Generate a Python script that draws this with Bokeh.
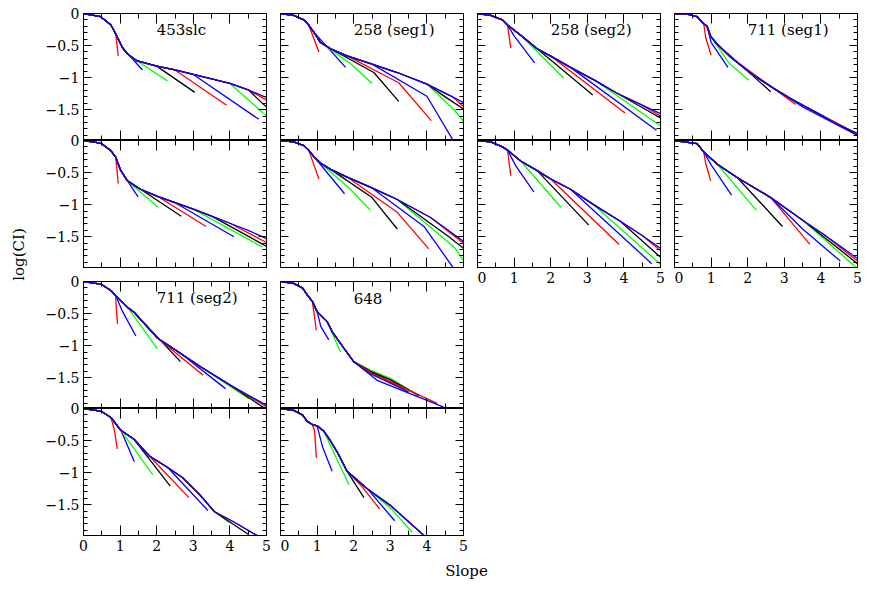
import numpy as np
from bokeh.plotting import figure
from bokeh.models import FixedTicker, LinearAxis, Range1d, Label, CustomJSTickFormatter
from bokeh.layouts import column, row
from bokeh.embed import file_html
from bokeh.resources import INLINE

FONT = "DejaVu Serif"
LINE_COLORS = ["#ff0000", "#0000ff", "#00ff00", "#000000"]

# ---------------- axis ticks / labels ----------------
x_major = [0, 1, 2, 3, 4, 5]
x_tick_labels = ["0", "1", "2", "3", "4", "5"]
y_major = [0, -0.5, -1.0, -1.5]
y_tick_labels = ["0", "\u22120.5", "\u22121", "\u22121.5"]
panel_names = ["453slc", "258 (seg1)", "258 (seg2)", "711 (seg1)", "711 (seg2)", "648"]
x_title = "Slope"
y_title = "log(CI)"

# ---------------- data: trunk (shared upper curve) + branch tails ----------------
# 453slc upper
s453u_tx = [0, 0.47, 0.75, 0.88, 0.97, 1.06, 1.2, 1.47, 2.0, 2.5, 3.0, 3.5, 4.0, 4.5, 5.0]
s453u_ty = [0, -0.05, -0.18, -0.32, -0.42, -0.53, -0.63, -0.74, -0.82, -0.88, -0.95, -1.02, -1.09, -1.19, -1.31]
s453u_k = [3, 5, 7, 8, 9, 10, 12, 13, 13, 14]
s453u_ex = [[0.95], [1.61], [2.29], [3.04], [3.91], [4.79], [5.0], [5.0], [5.0], []]
s453u_ey = [[-0.66], [-0.88], [-1.05], [-1.23], [-1.43], [-1.65], [-1.6], [-1.46], [-1.35], []]
# 453slc lower
s453l_tx = [0, 0.47, 0.75, 0.88, 1.02, 1.2, 1.56, 2.02, 2.5, 3.0, 3.5, 4.0, 4.5, 5.0]
s453l_ty = [0, -0.04, -0.16, -0.26, -0.47, -0.63, -0.76, -0.87, -0.97, -1.07, -1.18, -1.29, -1.4, -1.53]
s453l_k = [3, 4, 5, 6, 7, 8, 9, 10, 11, 13]
s453l_ex = [[0.95], [1.49], [2.04], [2.67], [3.35], [4.11], [4.88], [5.0], [5.0], []]
s453l_ey = [[-0.67], [-0.88], [-1.04], [-1.18], [-1.34], [-1.5], [-1.66], [-1.65], [-1.59], []]

# 258 (seg1) upper
s258au_tx = [0, 0.36, 0.64, 0.77, 0.91, 1.09, 1.37, 1.82, 2.5, 3.19, 4.0, 4.7, 5.0]
s258au_ty = [0, -0.03, -0.1, -0.18, -0.29, -0.45, -0.55, -0.66, -0.79, -0.92, -1.1, -1.3, -1.39]
s258au_k = [3, 4, 5, 6, 7, 8, 10, 10, 11, 12]
s258au_ex = [[1.05], [1.78], [1.91, 2.5], [2.55, 3.23], [3.23, 4.12], [4.0, 4.74], [4.74, 5.0], [4.5, 5.0], [5.0], []]
s258au_ey = [[-0.6], [-0.84], [-0.78, -1.09], [-0.92, -1.37], [-1.08, -1.67], [-1.29, -2.0], [-1.5, -1.68], [-1.3, -1.49], [-1.45], []]
# 258 (seg1) lower
s258al_tx = [0, 0.36, 0.64, 0.77, 0.91, 1.09, 1.37, 1.82, 2.5, 3.19, 4.1, 5.0]
s258al_ty = [0, -0.02, -0.08, -0.15, -0.25, -0.35, -0.45, -0.57, -0.74, -0.92, -1.2, -1.57]
s258al_k = [3, 4, 5, 6, 7, 8, 9, 9, 10, 11]
s258al_ex = [[1.05], [1.75], [1.91, 2.46], [2.5, 3.19], [3.19, 4.05], [3.92, 4.74], [4.74, 5.0], [4.6, 5.0], [5.0], []]
s258al_ey = [[-0.6], [-0.83], [-0.76, -1.09], [-0.89, -1.38], [-1.12, -1.69], [-1.34, -2.0], [-1.66, -1.87], [-1.5, -1.68], [-1.6], []]

# 258 (seg2) upper
s258bu_tx = [0, 0.36, 0.68, 0.82, 1.18, 1.63, 1.99, 2.54, 3.17, 3.8, 4.4, 5.0]
s258bu_ty = [0, -0.03, -0.1, -0.18, -0.34, -0.55, -0.66, -0.84, -1.03, -1.24, -1.4, -1.56]
s258bu_k = [3, 3, 4, 5, 6, 7, 8, 9, 10, 11]
s258bu_ex = [[0.91], [1.0, 1.56], [2.36], [3.15], [4.03], [4.89], [5.0], [5.0], [5.0], []]
s258bu_ey = [[-0.54], [-0.35, -0.77], [-1.01], [-1.27], [-1.55], [-1.82], [-1.75], [-1.63], [-1.6], []]
# 258 (seg2) lower
s258bl_tx = [0, 0.36, 0.68, 0.82, 1.18, 1.63, 2.0, 2.54, 3.17, 3.9, 4.5, 5.0]
s258bl_ty = [0, -0.02, -0.1, -0.15, -0.32, -0.47, -0.6, -0.76, -1.0, -1.26, -1.48, -1.68]
s258bl_k = [3, 3, 4, 5, 6, 7, 8, 9, 10, 11]
s258bl_ex = [[0.91], [1.05, 1.54], [2.28], [3.04], [3.87], [4.76], [5.0], [5.0], [5.0], []]
s258bl_ey = [[-0.55], [-0.4, -0.8], [-1.04], [-1.32], [-1.62], [-1.92], [-1.93], [-1.82], [-1.72], []]

# 711 (seg1) upper
s711au_tx = [0, 0.35, 0.62, 0.8, 0.89, 0.99, 1.17, 1.53, 2.08, 2.63, 3.18, 3.54, 3.99, 4.45, 5.0]
s711au_ty = [0, -0.01, -0.05, -0.16, -0.2, -0.36, -0.48, -0.68, -0.93, -1.14, -1.33, -1.44, -1.58, -1.73, -1.87]
s711au_k = [3, 4, 5, 6, 7, 8, 9, 10, 11, 14]
s711au_ex = [[0.85, 1.0], [1.0, 1.46], [1.5, 2.03], [2.63], [3.31], [3.54, 5.0], [3.6, 5.0], [5.0], [5.0], []]
s711au_ey = [[-0.37, -0.65], [-0.45, -0.84], [-0.78, -1.04], [-1.22], [-1.42], [-1.47, -1.9], [-1.46, -1.88], [-1.89], [-1.88], []]
# 711 (seg1) lower
s711al_tx = [0, 0.62, 0.8, 1.17, 1.72, 2.63, 3.54, 4.09, 5.0]
s711al_ty = [0, -0.05, -0.18, -0.37, -0.58, -0.89, -1.26, -1.47, -1.84]
s711al_k = [2, 2, 3, 4, 5, 5, 6, 6, 7, 8]
s711al_ex = [[0.85, 0.99], [1.0, 1.56], [2.24], [2.95], [3.7], [3.5, 4.53], [5.0], [5.0], [5.0], []]
s711al_ey = [[-0.35, -0.63], [-0.38, -0.85], [-1.09], [-1.34], [-1.62], [-1.38, -1.88], [-2.0], [-1.92], [-1.88], []]

# 711 (seg2) upper
s711bu_tx = [0, 0.47, 0.75, 0.88, 1.2, 1.38, 2.02, 2.65, 3.2, 4.02, 5.0]
s711bu_ty = [0, -0.04, -0.14, -0.22, -0.4, -0.48, -0.88, -1.12, -1.33, -1.62, -1.93]
s711bu_k = [3, 3, 4, 5, 6, 7, 8, 9, 9, 10]
s711bu_ex = [[0.9, 0.93], [1.05, 1.43], [2.02], [2.65], [3.27], [3.88], [4.52], [4.93], [5.0], []]
s711bu_ey = [[-0.45, -0.66], [-0.45, -0.85], [-1.05], [-1.25], [-1.46], [-1.67], [-1.83], [-1.97], [-1.95], []]
# 711 (seg2) lower
s711bl_tx = [0, 0.47, 0.75, 1.02, 1.38, 1.8, 2.3, 2.71, 3.17, 3.58, 4.11, 4.8]
s711bl_ty = [0, -0.04, -0.14, -0.34, -0.48, -0.74, -0.92, -1.08, -1.34, -1.61, -1.77, -2.0]
s711bl_k = [2, 3, 3, 4, 5, 6, 9, 9, 10, 11]
s711bl_ex = [[0.85, 0.92], [1.39], [1.89], [2.37], [2.88], [3.4], [3.99], [4.5], [4.8], []]
s711bl_ey = [[-0.35, -0.63], [-0.83], [-1.03], [-1.21], [-1.39], [-1.59], [-1.78], [-1.96], [-2.0], []]

# 648 upper
s648u_tx = [0, 0.36, 0.6, 0.73, 0.87, 1.0, 1.28, 1.41, 1.73, 2.0]
s648u_ty = [0, -0.03, -0.1, -0.21, -0.31, -0.47, -0.63, -0.78, -1.04, -1.25]
s648u_k = [4, 5, 6, 9, 9, 9, 9, 9, 9, 9]
s648u_ex = [[0.98], [1.1, 1.32], [1.64], [2.46, 3.2], [2.5, 3.4], [2.5, 3.5], [2.46, 3.0, 3.7], [2.46, 3.0, 3.78], [2.5, 3.0, 4.28], [2.64, 4.46]]
s648u_ey = [[-0.76], [-0.7, -0.91], [-1.1], [-1.41, -1.62], [-1.44, -1.68], [-1.45, -1.72], [-1.38, -1.51, -1.75], [-1.4, -1.53, -1.78], [-1.43, -1.56, -1.9], [-1.54, -1.96]]
# 648 lower
s648l_tx = [0, 0.36, 0.6, 0.73, 0.87, 1.0, 1.18, 1.37, 1.59, 1.82, 2.37, 3.0, 3.96]
s648l_ty = [0, -0.03, -0.1, -0.2, -0.25, -0.27, -0.35, -0.51, -0.72, -0.98, -1.25, -1.51, -2.0]
s648l_k = [4, 5, 6, 9, 9, 10, 10, 11, 11, 12]
s648l_ex = [[0.93, 0.98], [1.15, 1.41], [1.87], [2.28], [2.2, 2.71], [3.12], [3.0, 3.6], [3.96], [3.96], []]
s648l_ey = [[-0.35, -0.77], [-0.6, -0.98], [-1.19], [-1.39], [-1.2, -1.57], [-1.75], [-1.55, -1.93], [-2.0], [-2.0], []]

# ---------------- helpers ----------------
X_MINOR = [0.5, 1.5, 2.5, 3.5, 4.5]
Y_MINOR = [round(-0.1 * i, 2) for i in range(1, 20) if i % 5 != 0]
LABEL_JS = """
const i = vals.findIndex(v => Math.abs(v - tick) < 1e-9);
return i >= 0 ? labs[i] : "";
"""


def build_lines(tx, ty, ks, exs, eys):
    xs, ys, cs = [], [], []
    for i, (k, ex, ey) in enumerate(zip(ks, exs, eys)):
        xs.append(list(tx[:k + 1]) + list(ex))
        ys.append(list(ty[:k + 1]) + list(ey))
        cs.append(LINE_COLORS[i % 4])
    return xs, ys, cs


def style_axis(ax, show, is_x):
    ax.axis_line_color = "black"
    ax.major_tick_line_color = "black"
    ax.minor_tick_line_color = "black"
    ax.major_tick_out = 0
    ax.minor_tick_out = 0
    ax.major_tick_in = 10 if is_x else 8
    ax.minor_tick_in = 5 if is_x else 4
    ax.major_label_text_font = FONT
    if show:
        ax.major_label_text_color = "black"
        ax.major_label_text_font_size = "14px"
        ax.major_label_standoff = 4
        if is_x:
            ax.formatter = CustomJSTickFormatter(args=dict(vals=x_major, labs=x_tick_labels), code=LABEL_JS)
        else:
            ax.formatter = CustomJSTickFormatter(args=dict(vals=y_major, labs=y_tick_labels), code=LABEL_JS)
    else:
        ax.major_label_text_color = None
        ax.major_label_text_font_size = "0px"
        ax.major_label_standoff = 0


def make_panel(data, show_x, show_y, left, right, top, bottom, name=None, margin_top=0):
    p = figure(frame_width=183, frame_height=127,
               x_range=Range1d(0, 5), y_range=Range1d(-1.98, 0),
               x_axis_location=None, y_axis_location=None,
               output_backend="svg", toolbar_location=None,
               min_border_left=left, min_border_right=right,
               min_border_top=top, min_border_bottom=bottom,
               border_fill_color=None, background_fill_color="white",
               outline_line_color="black", outline_line_width=1)
    p.xgrid.visible = False
    p.ygrid.visible = False
    if margin_top:
        p.margin = (margin_top, 0, 0, 0)
    xs, ys, cs = build_lines(*data)
    p.multi_line(xs, ys, line_color=cs, line_width=1.3)
    for loc in ("below", "above"):
        ax = LinearAxis(ticker=FixedTicker(ticks=x_major, minor_ticks=X_MINOR))
        style_axis(ax, show_x and loc == "below", True)
        p.add_layout(ax, loc)
    for loc in ("left", "right"):
        ax = LinearAxis(ticker=FixedTicker(ticks=y_major, minor_ticks=Y_MINOR))
        style_axis(ax, show_y and loc == "left", False)
        p.add_layout(ax, loc)
    if name is not None:
        p.add_layout(Label(x=2.0, y=-0.26, text=name, text_font=FONT,
                           text_font_size="15px", text_baseline="middle",
                           text_align="left", text_color="black"))
    return p


d453u = (s453u_tx, s453u_ty, s453u_k, s453u_ex, s453u_ey)
d453l = (s453l_tx, s453l_ty, s453l_k, s453l_ex, s453l_ey)
d258au = (s258au_tx, s258au_ty, s258au_k, s258au_ex, s258au_ey)
d258al = (s258al_tx, s258al_ty, s258al_k, s258al_ex, s258al_ey)
d258bu = (s258bu_tx, s258bu_ty, s258bu_k, s258bu_ex, s258bu_ey)
d258bl = (s258bl_tx, s258bl_ty, s258bl_k, s258bl_ex, s258bl_ey)
d711au = (s711au_tx, s711au_ty, s711au_k, s711au_ex, s711au_ey)
d711al = (s711al_tx, s711al_ty, s711al_k, s711al_ex, s711al_ey)
d711bu = (s711bu_tx, s711bu_ty, s711bu_k, s711bu_ex, s711bu_ey)
d711bl = (s711bl_tx, s711bl_ty, s711bl_k, s711bl_ex, s711bl_ey)
d648u = (s648u_tx, s648u_ty, s648u_k, s648u_ex, s648u_ey)
d648l = (s648l_tx, s648l_ty, s648l_k, s648l_ex, s648l_ey)

OV = 8    # overlap of a lower panel's top border over the panel above it
TOP = 13  # space above the first row
LB = 45   # left border of column 1 (y tick labels)
XB = 24   # bottom border with x tick labels

# column 1
A_up = make_panel(d453u, False, True, LB, 14, TOP, 0, panel_names[0])
A_lo = make_panel(d453l, False, True, LB, 14, OV, 6, None, -OV)
E_up = make_panel(d711bu, False, True, LB, 14, 8, 0, panel_names[4])
E_lo = make_panel(d711bl, True, True, LB, 14, OV, XB, None, -OV)
# column 2
B_up = make_panel(d258au, False, False, 0, 14, TOP, 0, panel_names[1])
B_lo = make_panel(d258al, False, False, 0, 14, OV, 6, None, -OV)
F_up = make_panel(d648u, False, False, 0, 14, 8, 0, panel_names[5])
F_lo = make_panel(d648l, True, False, 0, 14, OV, XB, None, -OV)
# columns 3 and 4
C_up = make_panel(d258bu, False, False, 0, 14, TOP, 0, panel_names[2])
C_lo = make_panel(d258bl, True, False, 0, 14, OV, XB, None, -OV)
D_up = make_panel(d711au, False, False, 0, 6, TOP, 0, panel_names[3])
D_lo = make_panel(d711al, True, False, 0, 6, OV, XB, None, -OV)

left_block = column(row(column(A_up, A_lo), column(B_up, B_lo)),
                    row(column(E_up, E_lo), column(F_up, F_lo)))
right_block = row(column(C_up, C_lo), column(D_up, D_lo))

BLOCK_H = TOP + 127 + 127 + 6 + 8 + 127 + 127 + XB  # height of the panel block

# y title strip on the left
ytitle_fig = figure(width=38, height=BLOCK_H, x_range=Range1d(0, 38), y_range=Range1d(BLOCK_H, 0),
                    x_axis_location=None, y_axis_location=None,
                    output_backend="svg", toolbar_location=None,
                    min_border=0, outline_line_color=None, border_fill_color=None,
                    background_fill_color=None)
ytitle_fig.xgrid.visible = False
ytitle_fig.ygrid.visible = False
ytitle_fig.add_layout(Label(x=18, y=254, text=y_title, angle=np.pi / 2,
                            text_font=FONT, text_font_size="15px", text_align="center",
                            text_baseline="middle", text_color="black"))

# x title strip at the bottom
slope_fig = figure(width=863, height=22, x_range=Range1d(0, 863), y_range=Range1d(0, 22),
                   x_axis_location=None, y_axis_location=None,
                   output_backend="svg", toolbar_location=None,
                   min_border=0, outline_line_color=None, border_fill_color=None,
                   background_fill_color=None)
slope_fig.xgrid.visible = False
slope_fig.ygrid.visible = False
slope_fig.add_layout(Label(x=466, y=11, text=x_title, text_font=FONT, text_font_size="15px",
                           text_align="center", text_baseline="middle", text_color="black"))

layout = column(row(ytitle_fig, left_block, right_block), slope_fig)

open("out.html", "w").write(file_html(layout, INLINE))
